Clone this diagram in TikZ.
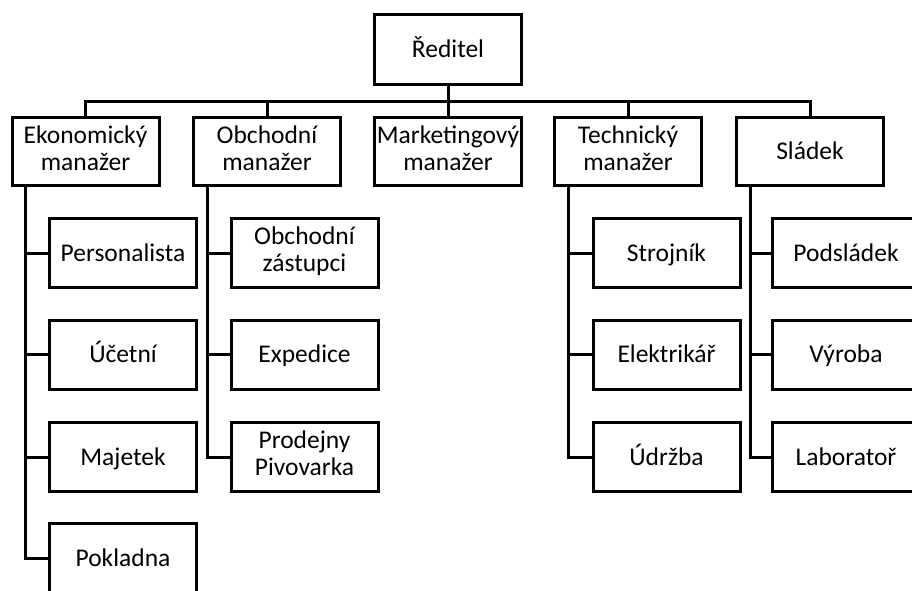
\documentclass[tikz,border=0pt]{standalone}
\usepackage{fontspec}
\setmainfont{Carlito}
% fixed line height so every box sets its text on the same baseline
\newcommand\lnstrut{\rule[-7pt]{0pt}{30pt}}
\begin{document}
\begin{tikzpicture}[x=1pt,y=-1pt,
  unit/.style={draw, line width=3pt, inner sep=0pt, align=center,
    minimum width=147pt, minimum height=69pt,
    font=\fontsize{25.5}{27}\selectfont,
    execute at begin node=\lnstrut, execute at end node=\lnstrut},
  link/.style={line width=3pt, line join=miter}]
\useasboundingbox (0,0) rectangle (912,590);
\clip (0,0) rectangle (912,590);

% top level
\node[unit, minimum height=70pt] (dir) at (448,49.5) {Ředitel};
\coordinate (bus) at (0,101);

% managers
\node[unit, minimum height=68pt] (ekon) at (85.5,151.5) {Ekonomický\\manažer};
\node[unit, minimum height=68pt] (obch) at (267,151.5) {Obchodní\\manažer};
\node[unit, minimum height=68pt] (mark) at (448,151.5) {Marketingový\\manažer};
\node[unit, minimum height=68pt] (tech) at (628,151.5) {Technický\\manažer};
\node[unit, minimum height=68pt] (slad) at (810,151.5) {Sládek};

% economics department
\node[unit] (pers) at (123,253) {Personalista};
\node[unit] (ucet) at (123,354.5) {Účetní};
\node[unit] (maje) at (123,457) {Majetek};
\node[unit] (pokl) at (123,558) {Pokladna};

% sales department
\node[unit] (zast) at (304.5,253) {Obchodní\\zástupci};
\node[unit] (expe) at (304.5,354.5) {Expedice};
\node[unit] (prod) at (304.5,457) {Prodejny\\Pivovarka};

% technical department
\node[unit] (stro) at (666.5,253) {Strojník};
\node[unit] (elek) at (666.5,354.5) {Elektrikář};
\node[unit] (udrz) at (666.5,457) {Údržba};

% brewing department
\node[unit] (pods) at (846,253) {Podsládek};
\node[unit] (vyro) at (846,354.5) {Výroba};
\node[unit] (labo) at (846,457) {Laboratoř};

% director to managers
\foreach \m in {ekon,obch,mark,tech,slad}
  \draw[link] (dir.south) |- (\m.north |- bus) -- (\m.north);

% managers to their staff
\foreach \m/\c in {ekon/pers,ekon/ucet,ekon/maje,ekon/pokl,
                   obch/zast,obch/expe,obch/prod,
                   tech/stro,tech/elek,tech/udrz,
                   slad/pods,slad/vyro,slad/labo}
  \draw[link] ([xshift=-60pt]\m.south) |- (\c.west);
\end{tikzpicture}
\end{document}
